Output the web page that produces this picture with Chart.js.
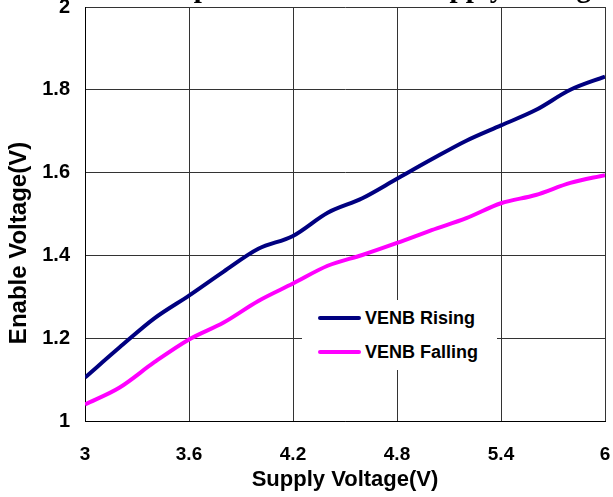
<!DOCTYPE html>
<html>
<head>
<meta charset="utf-8">
<script src="https://cdn.jsdelivr.net/npm/chart.js@4.4.1/dist/chart.umd.min.js"></script>
<style>
  body { margin: 0; background: #fff; }
  #wrap { position: relative; width: 613px; height: 497px; }
  #legend {
    position: absolute;
    left: 302px;
    top: 300px;
    width: 195px;
    height: 70px;
    background: #fff;
    padding-top: 1px;
    box-sizing: border-box;
    font: bold 18px "Liberation Sans", Arial, sans-serif;
    color: #000;
  }
  .row { display: flex; align-items: center; height: 34px; }
  .swatch { width: 43px; height: 4px; border-radius: 2px; margin: 0 4px 0 16px; }
</style>
</head>
<body>
<div id="wrap">
  <canvas id="chart" width="613" height="497"></canvas>
  <div id="legend"></div>
</div>
<script>
const supplyV = [3.0, 3.2, 3.4, 3.6, 3.8, 4.0, 4.2, 4.4, 4.6, 4.8, 5.0, 5.2, 5.4, 5.6, 5.8, 6.0];
const venbRising = [1.105, 1.178, 1.248, 1.303, 1.361, 1.416, 1.447, 1.503, 1.538, 1.585, 1.632, 1.677, 1.714, 1.751, 1.800, 1.832];
const venbFalling = [1.040, 1.081, 1.142, 1.197, 1.238, 1.290, 1.332, 1.375, 1.401, 1.430, 1.461, 1.490, 1.526, 1.546, 1.575, 1.594];

const xTicks = [3, 3.6, 4.2, 4.8, 5.4, 6];
const xTickLabels = ["3", "3.6", "4.2", "4.8", "5.4", "6"];
const yTicks = [1, 1.2, 1.4, 1.6, 1.8, 2];
const yTickLabels = ["1", "1.2", "1.4", "1.6", "1.8", "2"];

const chartTitle = "Enable Input Threshold vs. Supply Voltage";
const xTitle = "Supply Voltage(V)";
const yTitle = "Enable Voltage(V)";

const sans = "'Liberation Sans', Arial, sans-serif";

function points(ys) {
  return supplyV.map((x, i) => ({ x: x, y: ys[i] }));
}

// title sits above the canvas edge, y title is drawn by hand so it can sit off-centre
const titles = {
  id: "titles",
  afterDraw(chart) {
    const ctx = chart.ctx;
    ctx.save();
    ctx.fillStyle = "#000";
    ctx.font = "bold 29px 'Liberation Serif', 'Times New Roman', serif";
    ctx.textAlign = "center";
    ctx.textBaseline = "alphabetic";
    ctx.fillText(chartTitle, 338, -3);

    ctx.translate(19, 243);
    ctx.rotate(-Math.PI / 2);
    ctx.font = "bold 24px " + sans;
    ctx.textBaseline = "middle";
    ctx.fillText(yTitle, 0, 0);
    ctx.restore();
  }
};

const chart = new Chart(document.getElementById("chart"), {
  type: "line",
  data: {
    datasets: [
      { label: "VENB Rising", data: points(venbRising), borderColor: "#000080" },
      { label: "VENB Falling", data: points(venbFalling), borderColor: "#ff00ff" }
    ]
  },
  options: {
    responsive: false,
    animation: false,
    layout: { padding: { top: 7, right: 8, left: 0, bottom: 0 } },
    elements: {
      line: { borderWidth: 4, tension: 0.4, cubicInterpolationMode: "monotone" },
      point: { radius: 0 }
    },
    plugins: {
      legend: { display: false },
      tooltip: { enabled: false }
    },
    scales: {
      x: {
        type: "linear",
        min: 3,
        max: 6,
        afterBuildTicks: (s) => { s.ticks = xTicks.map(v => ({ value: v })); },
        afterFit: (s) => { s.height = 76; s.paddingLeft = 0; s.paddingRight = 0; },
        grid: { color: "#333", drawTicks: false },
        border: { color: "#000" },
        ticks: {
          color: "#000", padding: 22, maxRotation: 0,
          font: { family: sans, size: 19, weight: "bold" },
          callback: (v, i) => xTickLabels[i]
        },
        title: { display: true, text: xTitle, color: "#000", font: { family: sans, size: 22, weight: "bold" } }
      },
      y: {
        min: 1,
        max: 2,
        afterBuildTicks: (s) => { s.ticks = yTicks.map(v => ({ value: v })); },
        afterFit: (s) => { s.width = 85; s.paddingTop = 0; s.paddingBottom = 0; },
        grid: { color: "#333", drawTicks: false },
        border: { color: "#000" },
        ticks: {
          color: "#000", padding: 15,
          font: { family: sans, size: 20, weight: "bold" },
          callback: (v, i) => yTickLabels[i]
        }
      }
    }
  },
  plugins: [titles]
});

// legend built from the datasets, white box hides the grid behind it
const legendEl = document.getElementById("legend");
chart.data.datasets.forEach(ds => {
  const row = document.createElement("div");
  row.className = "row";
  const sw = document.createElement("span");
  sw.className = "swatch";
  sw.style.background = ds.borderColor;
  const label = document.createElement("span");
  label.innerText = ds.label;
  row.appendChild(sw);
  row.appendChild(label);
  legendEl.appendChild(row);
});
</script>
</body>
</html>
